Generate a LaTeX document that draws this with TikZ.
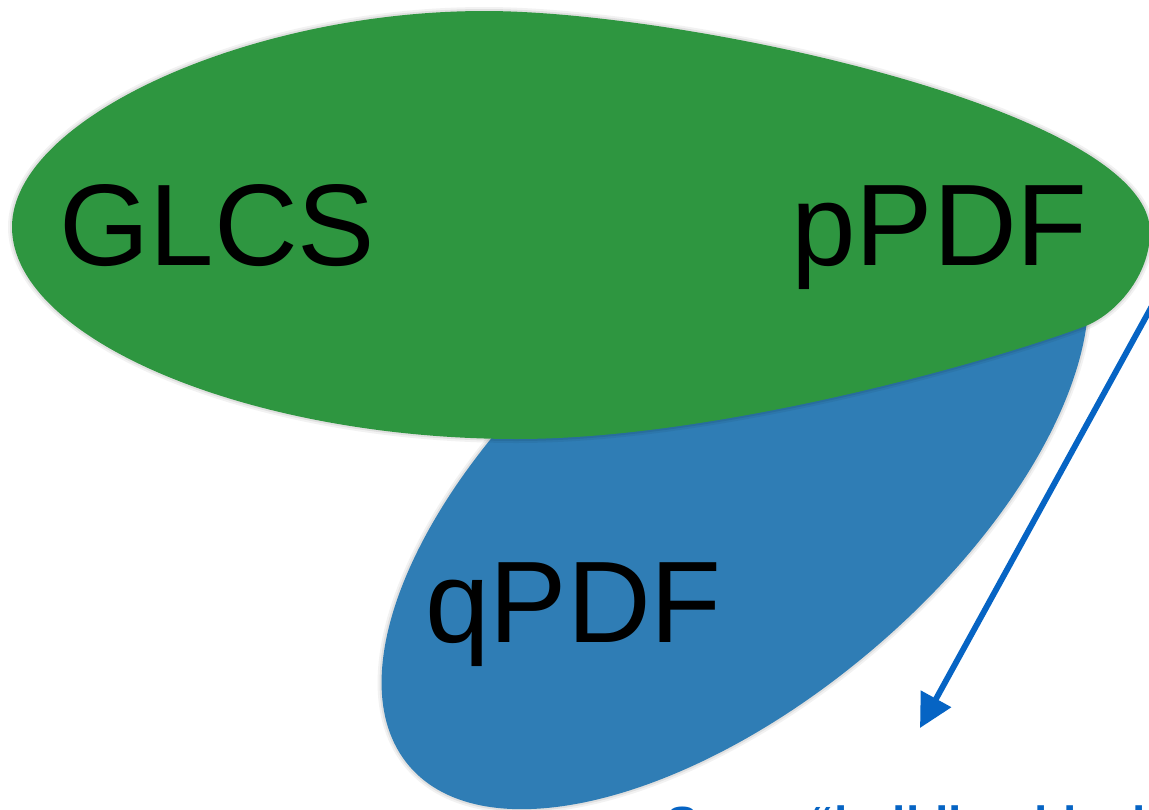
\documentclass[tikz,border=0pt]{standalone}
\usepackage{fontspec}
\setmainfont{Liberation Sans}
\usetikzlibrary{shapes.geometric,arrows.meta}
\definecolor{glcsgreen}{RGB}{46,150,64}
\definecolor{qpdfblue}{RGB}{47,125,181}
\definecolor{arrowblue}{RGB}{6,100,196}
\tikzset{
  softedge/.style={
    preaction={draw=black, draw opacity=0.05, line width=6pt},
    preaction={draw=black, draw opacity=0.07, line width=3pt}},
  biglabel/.style={inner sep=0pt, text=black, font=\fontsize{87}{96}\selectfont},
  notelabel/.style={inner sep=0pt, text=arrowblue, font=\fontsize{36}{42}\selectfont\bfseries},
  pointer/.style={draw=arrowblue, line width=4.4pt,
    -{Triangle[length=25pt, width=25pt]}}
}
\begin{document}
\begin{tikzpicture}[x=0.75pt, y=-0.75pt]
  \useasboundingbox (0,0) rectangle (1149,810);
  \fill[white] (0,0) rectangle (1149,810);
  \clip (0,0) rectangle (1149,810);

  % tilted blue ellipse behind
  \node[ellipse, softedge, fill=qpdfblue, inner sep=0pt,
        minimum width=640.5pt, minimum height=316pt, rotate=40.2]
        (qshape) at (735,490) {};

  % green egg-shaped region in front, blunt on the left, narrower on the right
  \path[softedge, fill=glcsgreen]
    (12,227) .. controls (12,119) and (248,11) .. (485,11)
             .. controls (684,11) and (1150,110) .. (1150,232)
             .. controls (1150,275) and (1116,315) .. (1083,327)
             .. controls (989,362) and (717,439) .. (517,439)
             .. controls (249,439) and (12,339) .. cycle;

  % labels
  \node[biglabel, anchor=base west] (glcs) at (59,265) {GLCS};
  \node[biglabel, anchor=base east] (ppdf) at (1088,265) {pPDF};
  \node[biglabel, anchor=base west] (qpdf) at (425,642) {qPDF};

  % pointer and note
  \coordinate (tail) at (1180,255);
  \coordinate (tip) at (920,728);
  \draw[pointer] (tail) -- (tip);
  \node[notelabel, anchor=base west] (note) at (666,840) {Some “building blocks”};
\end{tikzpicture}
\end{document}
